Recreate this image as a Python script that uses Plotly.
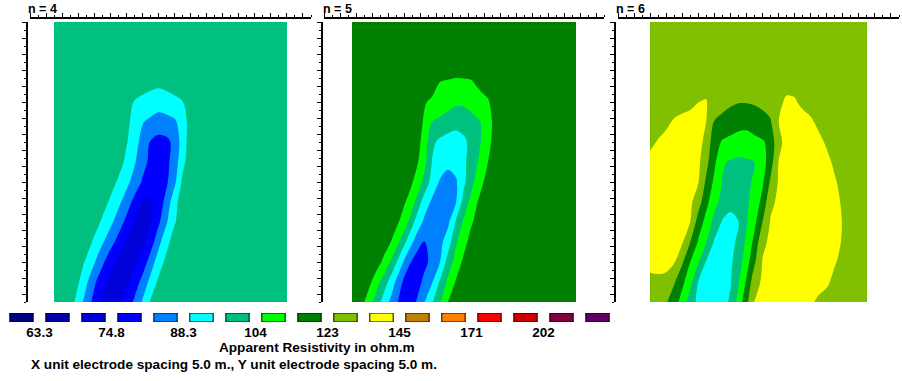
import numpy as np
import plotly.graph_objects as go

# ---------------- data ----------------
legend_colors = ["#000080", "#0000a8", "#0000d8", "#0000ff", "#0080ff", "#00ffff",
                 "#00c080", "#00ff00", "#008000", "#80c000", "#ffff00", "#c08000",
                 "#ff8000", "#ff0000", "#d00000", "#800040", "#600060"]
legend_index = list(range(1, 18))
legend_labels = ["63.3", "74.8", "88.3", "104", "123", "145", "171", "202"]
label_values = [63.3, 74.8, 88.3, 104, 123, 145, 171, 202]

panel_titles = ["n = 4", "n = 5", "n = 6"]
depth_rows = [0, 2.5, 5, 7.5, 10, 12.5, 15, 17.5, 20, 22.5, 25, 27.5, 30, 32.5, 35]

# n = 4 apparent resistivity (ohm.m)
n4_x = [3, 4, 5, 6, 7, 8, 9, 10, 11, 12, 13, 14, 15, 16, 17, 18, 19, 20, 21, 24, 28, 32]
n4_rho = [
    [100, 100, 100, 100, 100, 100, 100, 100, 100, 100, 100, 100, 100, 100, 100, 100, 100, 100, 100, 100, 100, 100],
    [100, 100, 100, 100, 100, 100, 100, 100, 100, 100, 100, 100, 100, 100, 100, 100, 100, 100, 100, 100, 100, 100],
    [100, 100, 100, 100, 100, 100, 100, 100, 100, 100, 100, 100, 100, 100, 100, 100, 100, 100, 100, 100, 100, 100],
    [100, 100, 100, 100, 100, 100, 100, 100, 100, 100, 100, 99.0, 98.2, 97.8, 98.2, 99.0, 100, 100, 100, 100, 100, 100],
    [100, 100, 100, 100, 100, 100, 100, 100, 100, 100, 95.4, 94.1, 92.9, 91.5, 92.9, 94.2, 95.6, 98.6, 100, 100, 100, 100],
    [100, 100, 100, 100, 100, 100, 100, 100, 100, 98.2, 92.8, 88.6, 86.7, 85.2, 85.5, 87.1, 91.4, 100, 100, 100, 100, 100],
    [100, 100, 100, 100, 100, 100, 100, 100, 100, 96.6, 91.2, 85.8, 80.8, 79.0, 79.7, 82.9, 91.9, 100, 100, 100, 100, 100],
    [100, 100, 100, 100, 100, 100, 100, 100, 100, 93.8, 89.1, 83.4, 79.7, 77.2, 79.5, 84.1, 93.8, 100, 100, 100, 100, 100],
    [100, 100, 100, 100, 100, 100, 100, 100, 94.4, 90.3, 85.4, 80.5, 77.2, 76.7, 80.1, 86.6, 97.4, 100, 100, 100, 100, 100],
    [100, 100, 100, 100, 100, 100, 100, 94.4, 90.0, 84.9, 79.2, 74.3, 73.9, 77.0, 83.7, 93.2, 100, 100, 100, 100, 100, 100],
    [100, 100, 100, 100, 100, 100, 94.4, 90.0, 84.9, 79.4, 74.4, 72.9, 74.1, 79.8, 87.4, 95.0, 100, 100, 100, 100, 100, 100],
    [100, 100, 100, 100, 100, 94.2, 89.1, 84.1, 78.8, 74.2, 72.5, 73.7, 77.5, 86.1, 93.2, 100, 100, 100, 100, 100, 100, 100],
    [100, 100, 100, 100, 94.6, 88.8, 82.9, 76.6, 73.4, 71.7, 73.4, 76.8, 84.6, 91.6, 98.2, 100, 100, 100, 100, 100, 100, 100],
    [100, 100, 100, 96.6, 89.5, 82.5, 76.4, 73.4, 71.7, 73.5, 77.2, 83.6, 90.2, 97.4, 100, 100, 100, 100, 100, 100, 100, 100],
    [100, 100, 100, 92.3, 85.3, 78.8, 74.0, 71.9, 73.5, 76.8, 82.4, 88.9, 96.6, 100, 100, 100, 100, 100, 100, 100, 100, 100],
]

# n = 5 apparent resistivity (ohm.m)
n5_x = [3.5, 4.5, 5.5, 6.5, 7.5, 8.5, 9.5, 10.5, 11.5, 12.5, 13.5, 14.5, 15.5, 16.5, 17.5,
        18.5, 19.5, 20.5, 21.5, 24.5, 28, 31.5]
n5_rho = [
    [118, 118, 118, 118, 118, 118, 118, 118, 118, 118, 118, 118, 118, 118, 118, 118, 118, 118, 118, 118, 118, 118],
    [118, 118, 118, 118, 118, 118, 118, 118, 118, 118, 118, 118, 118, 118, 118, 118, 118, 118, 118, 118, 118, 118],
    [118, 118, 118, 118, 118, 118, 118, 118, 118, 118, 118, 118, 118, 118, 118, 118, 118, 118, 118, 118, 118, 118],
    [118, 118, 118, 118, 118, 118, 118, 118, 118, 118, 118, 113.1, 112.5, 111.9, 112.1, 112.6, 115.5, 118, 118, 118, 118, 118],
    [118, 118, 118, 118, 118, 118, 118, 118, 118, 114.0, 111.4, 109.5, 107.7, 105.8, 105.9, 108.0, 109.9, 112.1, 118, 118, 118, 118],
    [118, 118, 118, 118, 118, 118, 118, 118, 118, 112.2, 104.1, 102.1, 100.0, 97.9, 98.3, 101.1, 103.8, 109.4, 116.9, 118, 118, 118],
    [118, 118, 118, 118, 118, 118, 118, 118, 118, 109.4, 97.4, 94.2, 92.6, 93.0, 94.7, 97.9, 103.5, 110.2, 118, 118, 118, 118],
    [118, 118, 118, 118, 118, 118, 118, 118, 115.5, 107.2, 95.5, 92.8, 90.1, 91.4, 94.5, 99.4, 105.8, 113.1, 118, 118, 118, 118],
    [118, 118, 118, 118, 118, 118, 118, 118, 109.9, 101.7, 92.7, 87.4, 85.3, 87.3, 94.4, 102.2, 109.4, 118, 118, 118, 118, 118],
    [118, 118, 118, 118, 118, 118, 118, 111.0, 102.9, 92.4, 87.0, 84.6, 85.5, 88.0, 99.4, 107.6, 115.5, 118, 118, 118, 118, 118],
    [118, 118, 118, 118, 118, 118, 112.2, 104.1, 93.5, 87.0, 84.0, 83.9, 86.7, 96.8, 105.7, 112.4, 118, 118, 118, 118, 118, 118],
    [118, 118, 118, 118, 118, 112.2, 103.1, 93.2, 85.4, 80.8, 83.3, 86.1, 91.9, 103.1, 109.8, 118, 118, 118, 118, 118, 118, 118],
    [118, 118, 118, 118, 110.8, 101.7, 91.9, 83.1, 78.1, 79.0, 83.4, 88.2, 99.4, 107.6, 115.5, 118, 118, 118, 118, 118, 118, 118],
    [118, 118, 116.9, 108.1, 99.9, 91.5, 83.1, 76.8, 77.2, 83.0, 87.7, 96.8, 106.0, 114.0, 118, 118, 118, 118, 118, 118, 118, 118],
    [118, 118, 109.0, 100.4, 92.3, 85.7, 79.4, 74.2, 81.2, 87.6, 95.0, 103.3, 113.1, 118, 118, 118, 118, 118, 118, 118, 118, 118],
]

# n = 6 apparent resistivity (ohm.m)
n6_x = [4, 5, 6, 7, 8, 9, 10, 11, 12, 13, 14, 15, 16, 17, 18, 19, 20, 21, 22, 23, 24, 25,
        26, 27, 28, 29, 30, 31]
n6_rho = [
    [128, 128, 128, 128, 128, 128, 128, 128, 128, 128, 128, 128, 128, 128, 128, 128, 128, 128, 128, 128, 128, 128, 128, 128, 128, 128, 128, 128],
    [128, 128, 128, 128, 128, 128, 128, 128, 128, 128, 128, 128, 128, 128, 128, 128, 128, 128, 128, 128, 128, 128, 128, 128, 128, 128, 128, 128],
    [128, 128, 128, 128, 128, 128, 128, 128, 128, 128, 128, 128, 128, 128, 128, 128, 128, 128, 128, 128, 128, 128, 128, 128, 128, 128, 128, 128],
    [128, 128, 128, 128, 128, 128, 130.1, 130.1, 128, 128, 128, 128, 128, 128, 128, 128, 128, 130.1, 130.1, 128, 128, 128, 128, 128, 128, 128, 128, 128],
    [128, 128, 128, 128, 128, 130.1, 133.4, 134.0, 128.0, 125.9, 124.3, 123.3, 123.3, 123.8, 124.9, 127.0, 131.2, 135.1, 134.5, 131.2, 129.1, 128, 128, 128, 128, 128, 128, 128],
    [128.0, 128.7, 131.2, 134.8, 137.6, 138.6, 137.9, 133.4, 122.3, 120.4, 118.7, 116.9, 115.8, 117.9, 119.9, 122.0, 133.4, 136.2, 139.1, 137.5, 135.1, 131.2, 128.5, 128, 128, 128, 128, 128],
    [131.0, 134.3, 137.1, 139.9, 141.0, 140.5, 137.5, 129.8, 116.9, 112.2, 110.5, 108.9, 109.4, 110.7, 112.1, 115.8, 131.5, 136.0, 138.8, 140.8, 138.8, 136.0, 132.1, 128.8, 128, 128, 128, 128],
    [136.8, 138.4, 140.2, 141.9, 141.0, 140.2, 135.7, 125.8, 115.0, 105.0, 103.3, 102.6, 103.1, 103.9, 109.1, 118.6, 133.7, 136.1, 138.6, 141.1, 141.4, 139.1, 135.9, 131.6, 128.8, 128, 128, 128],
    [139.1, 140.2, 141.4, 141.5, 140.6, 138.0, 133.9, 120.8, 111.2, 103.7, 101.6, 100.1, 102.3, 105.3, 111.8, 124.5, 134.5, 136.8, 139.1, 141.4, 141.7, 140.0, 138.4, 134.5, 130.4, 128.4, 128, 128],
    [139.6, 140.5, 141.4, 140.5, 139.6, 135.8, 127.3, 115.9, 106.7, 101.6, 98.2, 98.5, 102.5, 107.8, 115.8, 131.5, 135.2, 137.3, 139.4, 141.5, 141.8, 140.5, 139.2, 136.3, 132.1, 128.9, 128, 128],
    [139.6, 140.4, 140.3, 139.5, 137.1, 133.4, 118.5, 109.8, 101.3, 95.1, 93.5, 95.6, 103.3, 110.8, 122.8, 134.2, 136.2, 138.3, 140.4, 142.6, 141.5, 140.5, 139.5, 137.0, 133.0, 129.0, 128, 128],
    [138.4, 139.6, 138.7, 137.9, 134.4, 122.8, 112.2, 104.1, 95.1, 92.8, 93.5, 97.4, 105.8, 115.8, 131.5, 135.2, 137.3, 139.4, 141.5, 142.0, 140.9, 139.9, 138.8, 136.5, 132.5, 128.9, 128, 128],
    [136.2, 136.5, 136.2, 134.2, 124.2, 113.1, 104.8, 95.1, 92.6, 92.1, 94.5, 99.9, 109.0, 121.4, 134.0, 136.0, 137.9, 139.9, 141.9, 140.8, 139.9, 138.8, 137.9, 134.4, 130.4, 128.4, 128, 128],
    [131.2, 131.5, 130.9, 123.8, 115.5, 106.7, 95.6, 92.9, 90.4, 92.8, 95.3, 103.2, 114.4, 129.8, 134.9, 136.7, 138.5, 140.4, 140.8, 139.8, 138.8, 137.9, 135.4, 130.4, 128.4, 128, 128, 128],
    [129.1, 128.2, 123.8, 117.2, 109.4, 99.3, 94.1, 91.6, 91.5, 93.8, 96.7, 106.9, 120.3, 134.1, 136.1, 138.1, 140.3, 140.7, 139.5, 138.2, 135.3, 131.2, 128.8, 128, 128, 128, 128, 128],
]

panels = [(n4_x, n4_rho), (n5_x, n5_rho), (n6_x, n6_rho)]

# ---------------- layout helpers ----------------
W, H = 902, 381
FONT = "Liberation Sans, Arial, sans-serif"


def fx(p):
    return p / W


def fy(p):
    return 1 - p / H


# geometric class boundaries: 63.3 ... 202 spans 14 boxes
ratio = (label_values[-1] / label_values[0]) ** (1.0 / 14)


def class_coord(rho):
    return np.log(np.asarray(rho, dtype=float) / label_values[0]) / np.log(ratio)


ncol = len(legend_colors)
colorscale = [[k / (ncol - 1), c] for k, c in enumerate(legend_colors)]

x_domains_px = [(30, 311), (324, 604), (618, 899)]
y_axis_pos_px = [27, 322, 615]

fig = go.Figure()
layout = dict(width=W, height=H, margin=dict(l=0, r=0, t=0, b=0),
              paper_bgcolor="white", plot_bgcolor="white", showlegend=False,
              font=dict(family=FONT, color="black"))

annotations = []
for i, (xs, rho) in enumerate(panels):
    sfx = "" if i == 0 else str(i + 1)
    fig.add_trace(go.Contour(
        x=xs, y=depth_rows, z=class_coord(rho),
        xaxis="x" + sfx, yaxis="y" + sfx,
        colorscale=colorscale, autocontour=False,
        contours=dict(start=0, end=15, size=1, coloring="fill", showlines=False),
        line=dict(width=0, smoothing=1.0),
        showscale=False, hoverinfo="skip"))
    d0, d1 = x_domains_px[i]
    axcommon = dict(showline=True, linecolor="black", linewidth=2, ticks="outside",
                    tickcolor="black", tickwidth=1, ticklen=4, dtick=2, tick0=0,
                    showticklabels=False, showgrid=False, zeroline=False,
                    minor=dict(dtick=1, tick0=0, ticks="outside", ticklen=2,
                               tickcolor="black", tickwidth=1, showgrid=False))
    layout["xaxis" + sfx] = dict(axcommon, domain=[fx(d0), fx(d1)], range=[0, 35],
                                 side="top", anchor="free", position=fy(18))
    layout["yaxis" + sfx] = dict(axcommon, domain=[fy(302), fy(22)], range=[35, 0],
                                 side="left", anchor="free", position=fx(y_axis_pos_px[i]))
    annotations.append(dict(text="<b>" + panel_titles[i] + "</b>", x=fx(y_axis_pos_px[i] - 1),
                            y=fy(9.5), xref="paper", yref="paper", xanchor="left",
                            yanchor="middle", showarrow=False,
                            font=dict(size=12.5, family=FONT)))

# legend boxes as bars on their own axis
fig.add_trace(go.Bar(x=legend_index, y=[1] * len(legend_index), base=0,
                     marker=dict(color=legend_colors, line=dict(color="black", width=1)),
                     width=0.65, xaxis="x4", yaxis="y4", hoverinfo="skip"))
k0 = 1 - 21.5 / 36
layout["xaxis4"] = dict(domain=[0, 1], range=[k0, k0 + W / 36], anchor="y4",
                        showline=False, showgrid=False, zeroline=False, ticks="",
                        tickvals=[legend_index[j] + 0.5 for j in range(0, 16, 2)],
                        ticktext=legend_labels,
                        tickfont=dict(size=13.5, family=FONT, weight="bold"))
layout["yaxis4"] = dict(domain=[fy(322), fy(313)], range=[0, 1], anchor="x4",
                        showline=False, showgrid=False, zeroline=False,
                        showticklabels=False, ticks="")

annotations.append(dict(text="<b>Apparent Resistivity in ohm.m</b>", x=fx(317), y=fy(347),
                        xref="paper", yref="paper", xanchor="center", yanchor="middle",
                        showarrow=False, font=dict(size=13.6, family=FONT)))
annotations.append(dict(text="<b>X unit electrode spacing 5.0 m., Y unit electrode spacing 5.0 m.</b>",
                        x=fx(29), y=fy(364), xref="paper", yref="paper", xanchor="left",
                        yanchor="middle", showarrow=False, font=dict(size=13.6, family=FONT)))
layout["annotations"] = annotations
fig.update_layout(**layout)

# the page keeps no default body margin so the figure fills the window exactly
fig.write_html("out.html", config={"displayModeBar": False, "staticPlot": True},
               post_script="document.body.style.margin='0px';")
